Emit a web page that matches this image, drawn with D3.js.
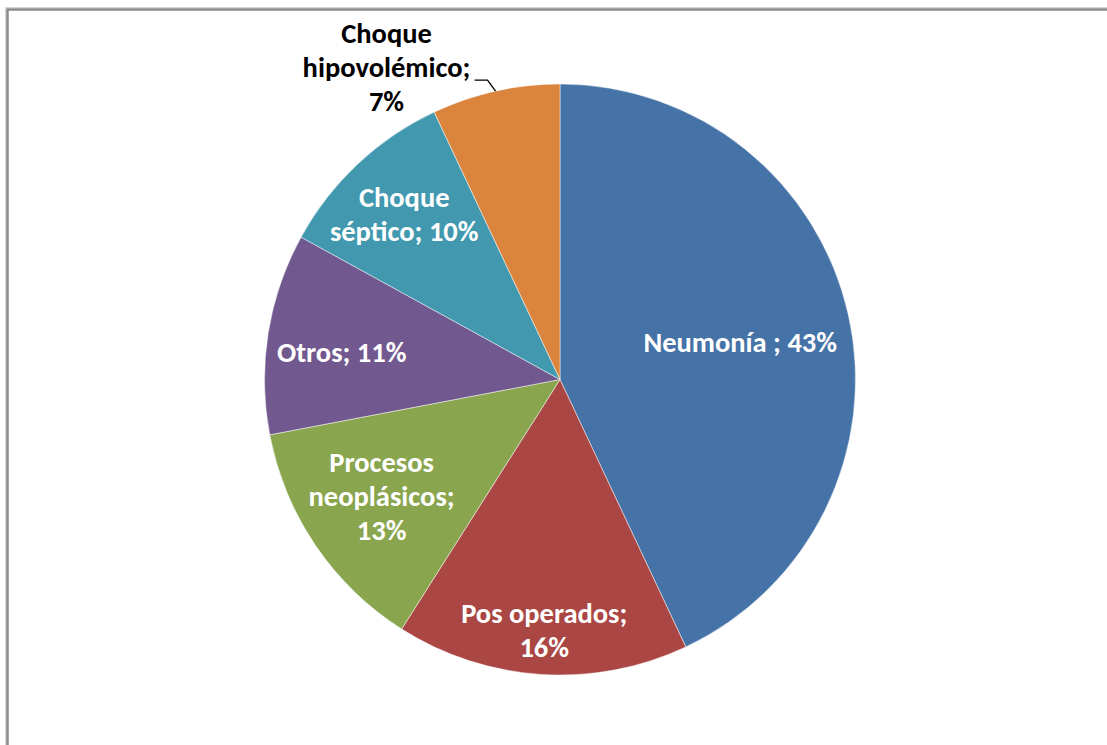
<!DOCTYPE html>
<html>
<head>
<meta charset="utf-8">
<script src="https://cdn.jsdelivr.net/npm/d3@7"></script>
<style>
  html, body { margin: 0; padding: 0; background: #fff; }
  svg { display: block; }
  text { font-family: Carlito, Calibri, Lato, "Open Sans", sans-serif; font-weight: 700; }
</style>
</head>
<body>
<svg id="chart" width="1107" height="745"></svg>
<script>
// Causes, in clockwise order from 12 o'clock
const categories = ["Neumonía ", "Pos operados", "Procesos neoplásicos", "Otros", "Choque séptico", "Choque hipovolémico"];
const values = [43, 16, 13, 11, 10, 7];
const colors = ["#4572A7", "#AA4643", "#89A54E", "#71588F", "#4198AF", "#DB843D"];
// Label line breaks
const labelLines = [
  ["Neumonía ; 43%"],
  ["Pos operados;", "16%"],
  ["Procesos", "neoplásicos;", "13%"],
  ["Otros; 11%"],
  ["Choque", "séptico; 10%"],
  ["Choque", "hipovolémico;", "7%"]
];

// layout
const W = 1107, H = 745;
const cx = 560, cy = 379.5, R = 295.5;
const labelRadius = [0.625, 0.85, 0.73, 0.765, 0.77, null]; // fraction of R; null = outside
const labelNudge = [[0, 3], [0, 0], [0, -5], [5, 8], [0, 0], [0, 0]]; // px fine-tuning
const fontSize = 28.5;
const lineH = 34;

const svg = d3.select("#chart");

// chart-area frame
svg.append("rect")
  .attr("x", 5.5).attr("y", 7.5).attr("width", W + 20).attr("height", H + 20)
  .attr("fill", "none").attr("stroke", "#d4d4d4").attr("stroke-width", 1);
svg.append("rect")
  .attr("x", 7.5).attr("y", 9.5).attr("width", W + 20).attr("height", H + 20)
  .attr("fill", "none").attr("stroke", "#8a8a8a").attr("stroke-width", 2.5);

const pie = d3.pie().sort(null).value(d => d);
const arcs = pie(values);
const arc = d3.arc().innerRadius(0).outerRadius(R);

const g = svg.append("g").attr("transform", `translate(${cx},${cy})`);

g.selectAll("path.slice")
  .data(arcs)
  .join("path")
  .attr("class", "slice")
  .attr("d", arc)
  .attr("fill", (d, i) => colors[i])
  .attr("stroke", "#ffffff")
  .attr("stroke-opacity", 0.6)
  .attr("stroke-width", 0.8);

// inside labels
arcs.forEach((d, i) => {
  const lines = labelLines[i];
  if (labelRadius[i] == null) return;
  const r = R * labelRadius[i];
  const la = d3.arc().innerRadius(r).outerRadius(r);
  const [cx0, cy0] = la.centroid(d);
  const x = cx0 + labelNudge[i][0], y = cy0 + labelNudge[i][1];
  const t = g.append("text")
    .attr("text-anchor", "middle")
    .attr("fill", "#ffffff")
    .attr("font-size", fontSize);
  lines.forEach((s, k) => {
    t.append("tspan")
      .attr("x", x)
      .attr("y", y + (k - (lines.length - 1) / 2) * lineH)
      .attr("dy", "0.35em")
      .text(s);
  });
});

// outside label with leader line for the smallest slice
{
  const i = 5;
  const d = arcs[i];
  const mid = (d.startAngle + d.endAngle) / 2;
  const p0 = [R * Math.sin(mid), -R * Math.cos(mid)];
  const p1 = [p0[0] - 8, p0[1] - 11];
  const p2 = [p1[0] - 13, p1[1]];
  g.append("path")
    .attr("d", d3.line()([p0, p1, p2]))
    .attr("fill", "none")
    .attr("stroke", "#000")
    .attr("stroke-width", 1.4);
  const lines = labelLines[i];
  const x = p2[0] - 88, y = p2[1] - 13;
  const t = g.append("text")
    .attr("text-anchor", "middle")
    .attr("fill", "#000")
    .attr("font-size", fontSize);
  lines.forEach((s, k) => {
    t.append("tspan")
      .attr("x", x)
      .attr("y", y + (k - (lines.length - 1) / 2) * lineH)
      .attr("dy", "0.35em")
      .text(s);
  });
}
</script>
</body>
</html>
